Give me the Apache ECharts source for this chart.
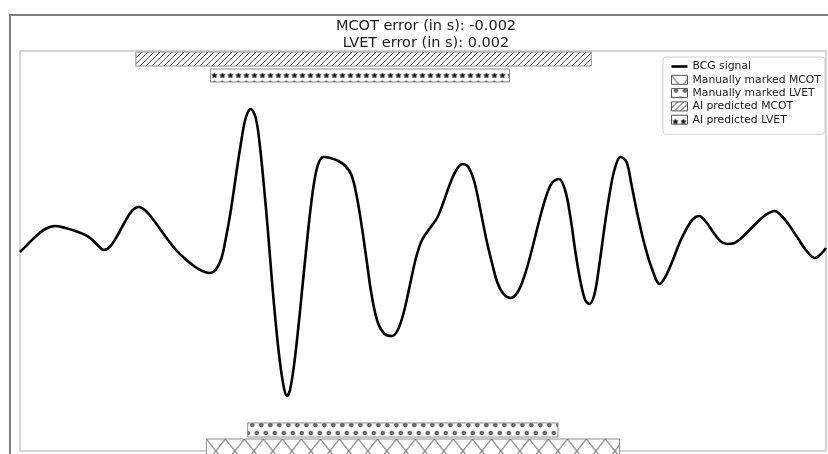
<!DOCTYPE html>
<html>
<head>
<meta charset="utf-8">
<script src="https://cdn.jsdelivr.net/npm/echarts/dist/echarts.min.js"></script>
<style>
  html, body { margin: 0; padding: 0; background: #fff; }
  #chart { width: 828px; height: 454px; }
</style>
</head>
<body>
<div id="chart"></div>
<script>
// BCG beat: sample time (ms) and amplitude (a.u.)
const timeMs = [
  0, 8, 16, 25, 35, 45, 55, 65, 72, 79, 83, 89, 97, 104, 111, 118, 125, 134, 144, 154,
  164, 174, 181, 188, 194, 200, 204, 209, 214, 219, 224, 229, 234, 238, 242, 246, 250, 254, 258, 262,
  265, 268, 272, 276, 280, 284, 288, 292, 296, 301, 308, 316, 323, 329, 334, 339, 344, 349, 355, 362,
  369, 375, 381, 387, 393, 399, 407, 414, 420, 426, 432, 439, 445, 451, 457, 463, 469, 474, 480, 487,
  494, 501, 508, 515, 522, 528, 535, 541, 546, 551, 556, 561, 565, 570, 575, 580, 585, 590, 596, 602,
  607, 613, 620, 627, 635, 641, 648, 655, 662, 668, 674, 681, 688, 695, 702, 709, 716, 724, 732, 740,
  749, 756, 764, 772, 780, 789, 795, 800
];
const amplitude = [
  -0.01, 0.07, 0.15, 0.22, 0.25, 0.23, 0.20, 0.16, 0.11, 0.04, 0.01, 0.04, 0.16, 0.29, 0.40, 0.44, 0.40, 0.29, 0.15, 0.02,
  -0.08, -0.16, -0.20, -0.22, -0.19, -0.07, 0.11, 0.39, 0.73, 1.06, 1.33, 1.42, 1.33, 1.06, 0.66, 0.21, -0.29, -0.74, -1.11, -1.37,
  -1.45, -1.39, -1.14, -0.79, -0.39, 0.01, 0.39, 0.69, 0.87, 0.94, 0.93, 0.90, 0.85, 0.76, 0.56, 0.26, -0.09, -0.44, -0.71, -0.83,
  -0.85, -0.79, -0.61, -0.34, -0.07, 0.11, 0.23, 0.33, 0.48, 0.65, 0.79, 0.87, 0.84, 0.69, 0.41, 0.11, -0.14, -0.32, -0.43, -0.47,
  -0.41, -0.24, 0.01, 0.29, 0.54, 0.68, 0.72, 0.61, 0.36, 0.01, -0.29, -0.49, -0.53, -0.44, -0.14, 0.23, 0.56, 0.81, 0.94, 0.89,
  0.66, 0.36, 0.06, -0.17, -0.33, -0.25, -0.09, 0.09, 0.23, 0.32, 0.35, 0.29, 0.19, 0.10, 0.07, 0.08, 0.13, 0.21, 0.29, 0.36,
  0.40, 0.35, 0.25, 0.13, 0.01, -0.07, -0.03, 0.03
];

// Interval bars: [start ms, end ms, lower, upper]
const manualMcot = [185, 595, -2.05, -1.88];
const manualLvet = [226, 534, -1.86, -1.72];
const aiMcot = [115, 567, 1.85, 1.99];
const aiLvet = [189, 486, 1.69, 1.82];

const titleLines = ['MCOT error (in s): -0.002', 'LVET error (in s): 0.002'];
const seriesNames = ['BCG signal', 'Manually marked MCOT', 'Manually marked LVET', 'AI predicted MCOT', 'AI predicted LVET'];

// ---- hatch tiles ----
function tile(w, h, draw) {
  const c = document.createElement('canvas');
  c.width = w; c.height = h;
  const ctx = c.getContext('2d');
  ctx.fillStyle = '#fff';
  ctx.fillRect(0, 0, w, h);
  ctx.strokeStyle = '#444';
  ctx.fillStyle = '#444';
  ctx.lineWidth = 1;
  draw(ctx, w, h);
  return c;
}
function star(ctx, cx, cy, r) {
  ctx.beginPath();
  for (let i = 0; i < 10; i++) {
    const a = -Math.PI / 2 + i * Math.PI / 5;
    const rr = i % 2 ? r * 0.5 : r;
    const x = cx + rr * Math.cos(a), y = cy + rr * Math.sin(a);
    i ? ctx.lineTo(x, y) : ctx.moveTo(x, y);
  }
  ctx.closePath();
  ctx.fill();
}
const hatchDiag = tile(6, 6, (ctx, w, h) => {
  ctx.beginPath();
  ctx.moveTo(-1, h + 1); ctx.lineTo(w + 1, -1);
  ctx.moveTo(-1, 1); ctx.lineTo(1, -1);
  ctx.moveTo(w - 1, h + 1); ctx.lineTo(w + 1, h - 1);
  ctx.stroke();
});
const hatchCross = tile(19, 24, (ctx, w, h) => {
  ctx.beginPath();
  ctx.moveTo(0, 0); ctx.lineTo(w, h);
  ctx.moveTo(w, 0); ctx.lineTo(0, h);
  ctx.stroke();
});
const hatchCircle = tile(9, 14, (ctx) => {
  ctx.fillStyle = '#777';
  ctx.beginPath(); ctx.arc(4.5, 2, 1.8, 0, Math.PI * 2); ctx.fill(); ctx.stroke();
  ctx.beginPath(); ctx.arc(0, 10, 1.8, 0, Math.PI * 2); ctx.fill(); ctx.stroke();
  ctx.beginPath(); ctx.arc(9, 10, 1.8, 0, Math.PI * 2); ctx.fill(); ctx.stroke();
});
const hatchStar = tile(8, 13, (ctx) => {
  ctx.fillStyle = '#111';
  star(ctx, 4, 6.5, 3.3);
  star(ctx, 4, 13.5, 2.4);
});

function barRenderer(img) {
  return function (params, api) {
    const p0 = api.coord([api.value(0), api.value(3)]);
    const p1 = api.coord([api.value(1), api.value(2)]);
    const cs = params.coordSys;
    const rect = echarts.graphic.clipRectByRect(
      { x: p0[0], y: p0[1], width: p1[0] - p0[0], height: p1[1] - p0[1] },
      { x: cs.x, y: cs.y, width: cs.width, height: cs.height + 6 }
    );
    if (!rect) return;
    return {
      type: 'rect',
      shape: rect,
      style: {
        fill: { image: img, repeat: 'repeat', x: p0[0], y: p0[1] },
        stroke: '#8c8c8c',
        lineWidth: 1
      }
    };
  };
}

function barSeries(name, interval, img) {
  return {
    name: name,
    type: 'custom',
    renderItem: barRenderer(img),
    itemStyle: { color: { image: img, repeat: 'repeat' }, borderColor: '#666', borderWidth: 1 },
    encode: { x: [0, 1], y: [2, 3] },
    data: [interval],
    silent: true,
    clip: false
  };
}

function patternIcon(name, img) {
  return { name: name, icon: 'rect', itemStyle: { color: { image: img, repeat: 'repeat' }, borderColor: '#555', borderWidth: 1 } };
}

const chart = echarts.init(document.getElementById('chart'), null, { renderer: 'canvas' });
const font = 'DejaVu Sans, Liberation Sans, sans-serif';

chart.setOption({
  animation: false,
  backgroundColor: '#fff',
  title: {
    text: titleLines.join('\n'),
    left: 421,
    top: 13,
    textAlign: 'center',
    textStyle: { fontFamily: font, fontSize: 14.5, fontWeight: 'normal', color: '#1a1a1a', lineHeight: 17 }
  },
  grid: { left: 20, top: 51, width: 806, height: 400, show: true, borderColor: '#c8c8c8', borderWidth: 1.5, backgroundColor: '#fff' },
  xAxis: { type: 'value', min: 0, max: 800, show: false },
  yAxis: { type: 'value', min: -2, max: 2, show: false },
  graphic: [{
    type: 'rect',
    z: -10,
    shape: { x: 10, y: 15, width: 840, height: 460 },
    style: { fill: 'none', stroke: '#808080', lineWidth: 2 }
  }],
  legend: {
    orient: 'vertical',
    left: 663,
    top: 57,
    padding: [4, 4, 9, 8],
    itemGap: 2.3,
    itemWidth: 16,
    itemHeight: 9,
    symbolKeepAspect: true,
    backgroundColor: '#fff',
    borderColor: '#d0d0d0',
    borderWidth: 1,
    borderRadius: 3,
    selectedMode: false,
    textStyle: { fontFamily: font, fontSize: 10.8, color: '#1a1a1a', lineHeight: 11 },
    data: [
      { name: seriesNames[0], icon: 'path://M0,0h16v2.6h-16z', itemStyle: { color: '#000', borderWidth: 0 } },
      patternIcon(seriesNames[1], hatchCross),
      patternIcon(seriesNames[2], hatchCircle),
      patternIcon(seriesNames[3], hatchDiag),
      patternIcon(seriesNames[4], hatchStar)
    ]
  },
  series: [
    {
      name: seriesNames[0],
      type: 'line',
      data: timeMs.map((t, i) => [t, amplitude[i]]),
      showSymbol: false,
      symbol: 'none',
      smooth: 0.35,
      lineStyle: { color: '#000', width: 2.6 },
      itemStyle: { color: '#000' },
      z: 5
    },
    barSeries(seriesNames[1], manualMcot, hatchCross),
    barSeries(seriesNames[2], manualLvet, hatchCircle),
    barSeries(seriesNames[3], aiMcot, hatchDiag),
    barSeries(seriesNames[4], aiLvet, hatchStar)
  ]
});
</script>
</body>
</html>
